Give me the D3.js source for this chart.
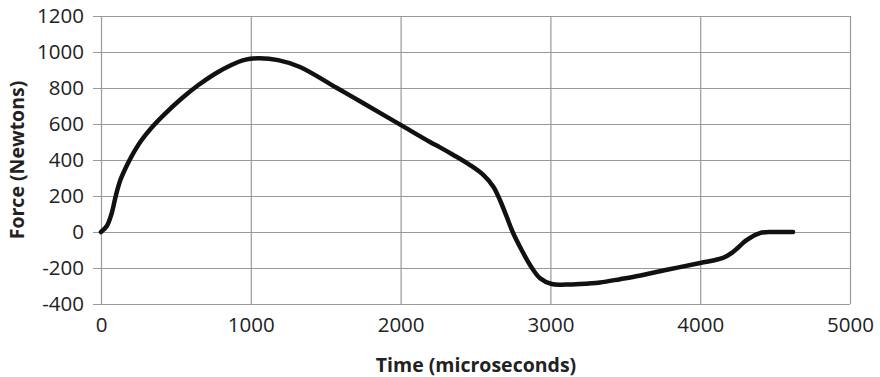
<!DOCTYPE html>
<html>
<head>
<meta charset="utf-8">
<script src="https://cdn.jsdelivr.net/npm/d3@7"></script>
<style>
  html, body { margin: 0; padding: 0; background: #fff; }
  svg { display: block; }
</style>
</head>
<body>
<svg id="chart" width="880" height="377"></svg>
<script>
const timeValues = [0, 40, 70, 100, 130, 170, 203, 269, 336, 425, 536, 648, 759, 870, 959, 1048, 1182, 1328, 1575, 1749, 2000, 2196, 2263, 2352, 2463, 2552, 2619, 2663, 2708, 2752, 2808, 2864, 2931, 3009, 3100, 3198, 3331, 3465, 3551, 3778, 4000, 4152, 4219, 4312, 4399, 4486, 4620];
const forceValues = [0, 35, 100, 205, 290, 365, 419, 508, 578, 655, 740, 815, 878, 928, 956, 965, 955, 917, 800, 717, 595, 500, 470, 428, 372, 317, 252, 178, 85, -7, -100, -183, -257, -289, -292, -289, -280, -262, -250, -210, -172, -144, -111, -44, -6, 0, 0];
const xTicks = [0, 1000, 2000, 3000, 4000, 5000];
const yTicks = [-400, -200, 0, 200, 400, 600, 800, 1000, 1200];
const xTitle = "Time (microseconds)";
const yTitle = "Force (Newtons)";

const svg = d3.select("#chart");
const mLeft = 101, mRight = 850, mTop = 16, mBottom = 304;
const x = d3.scaleLinear().domain([0, 5000]).range([mLeft, mRight]);
const y = d3.scaleLinear().domain([-400, 1200]).range([mBottom, mTop]);
const font = "'Open Sans', sans-serif";
const gridColor = "#999";

// horizontal grid + y axis
const yAxis = svg.append("g").attr("transform", `translate(${mLeft},0)`)
  .call(d3.axisLeft(y).tickValues(yTicks).tickSize(-(mRight - mLeft)).tickSizeOuter(0).tickPadding(17).tickFormat(d => String(d)));
yAxis.select(".domain").remove();
yAxis.selectAll(".tick line").attr("stroke", gridColor).attr("stroke-width", 1.2).attr("x1", -8);
yAxis.selectAll(".tick text").attr("font-family", font).attr("font-size", 20.5).attr("fill", "#222");

// vertical grid + x axis
const xAxis = svg.append("g").attr("transform", `translate(0,${mBottom})`)
  .call(d3.axisBottom(x).tickValues(xTicks).tickSize(-(mBottom - mTop)).tickSizeOuter(0).tickPadding(13).tickFormat(d => String(d)));
xAxis.select(".domain").remove();
xAxis.selectAll(".tick line").attr("stroke", gridColor).attr("stroke-width", 1.2);
xAxis.selectAll(".tick text").attr("font-family", font).attr("font-size", 20.5).attr("fill", "#222");

// titles
svg.append("text").attr("x", 476).attr("y", 372).attr("text-anchor", "middle")
  .attr("font-family", font).attr("font-weight", "bold").attr("font-size", 19.5).attr("fill", "#222").text(xTitle);
svg.append("text").attr("transform", `translate(24,${(mTop + mBottom) / 2}) rotate(-90)`).attr("text-anchor", "middle")
  .attr("font-family", font).attr("font-weight", "bold").attr("font-size", 19.5).attr("fill", "#222").text(yTitle);

// curve
const data = timeValues.map((t, i) => ({t, f: forceValues[i]}));
svg.append("path").datum(data)
  .attr("fill", "none").attr("stroke", "#111").attr("stroke-width", 4.5)
  .attr("stroke-linejoin", "round").attr("stroke-linecap", "round")
  .attr("d", d3.line().x(d => x(d.t)).y(d => y(d.f)).curve(d3.curveCatmullRom.alpha(0.5)));
</script>
</body>
</html>
